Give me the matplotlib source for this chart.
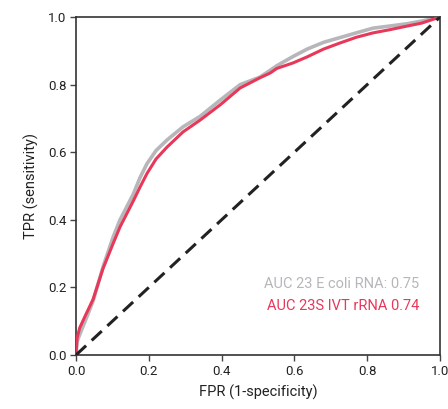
import matplotlib
matplotlib.use("Agg")
import matplotlib.pyplot as plt

plt.rcParams['font.family'] = ['Roboto', 'DejaVu Sans']

# Shared FPR grid
fpr = [0.0, 0.003, 0.01, 0.025, 0.047, 0.074, 0.102, 0.121, 0.157, 0.176, 0.195, 0.22, 0.25,
       0.294, 0.341, 0.396, 0.451, 0.505, 0.533, 0.552, 0.596, 0.635, 0.68, 0.725, 0.77,
       0.816, 0.86, 0.909, 0.95, 1.0]
# E. coli 23S RNA ROC (gray)
ecoli_tpr = [0.0, 0.04, 0.06, 0.10, 0.16, 0.26, 0.349, 0.40, 0.475, 0.525, 0.566, 0.605, 0.636,
             0.675, 0.706, 0.754, 0.80, 0.822, 0.842, 0.856, 0.883, 0.905, 0.925, 0.939, 0.953,
             0.967, 0.973, 0.98, 0.988, 1.0]
# 23S IVT rRNA ROC (red)
ivt_tpr = [0.0, 0.05, 0.08, 0.115, 0.165, 0.255, 0.33, 0.379, 0.455, 0.497, 0.537, 0.58, 0.615,
           0.66, 0.695, 0.74, 0.79, 0.82, 0.834, 0.848, 0.864, 0.882, 0.905, 0.923, 0.94,
           0.953, 0.962, 0.973, 0.982, 1.0]

diag = [0.0, 1.0]
ticks = [0.0, 0.2, 0.4, 0.6, 0.8, 1.0]
tick_labels = ["0.0", "0.2", "0.4", "0.6", "0.8", "1.0"]
legend_texts = ["AUC 23 E coli RNA: 0.75", "AUC 23S IVT rRNA 0.74"]

gray = "#b7b7bb"
red = "#e8385a"

fig = plt.figure(figsize=(4.48, 4.09), dpi=100)
ax = fig.add_axes([76/448, 1-355/409, (440-76)/448, (355-17)/409])

ax.plot(fpr, ivt_tpr, color=red, lw=2.2, zorder=3)
ax.plot(fpr, ecoli_tpr, color=gray, lw=2.6, zorder=2)
ax.plot(diag, diag, color="#222222", lw=2.2, ls=(0, (4.5, 2.5)), zorder=4)

ax.set_xlim(0, 1)
ax.set_ylim(0, 1)
ax.set_xticks(ticks)
ax.set_xticklabels(tick_labels)
ax.set_yticks(ticks)
ax.set_yticklabels(tick_labels)
ax.tick_params(direction="out", length=4, width=1, color="#444444", labelsize=9.5,
               labelcolor="#222222", pad=3)
for s in ax.spines.values():
    s.set_color("#333333")
    s.set_linewidth(1.2)

ax.set_xlabel("FPR (1-specificity)", fontsize=10.5, color="#222222", labelpad=5)
ax.set_ylabel("TPR (sensitivity)", fontsize=10.5, color="#222222", labelpad=6)

ax.text(0.943, 0.209, legend_texts[0], transform=ax.transAxes, ha="right", va="center",
        color=gray, fontsize=10.5)
ax.text(0.943, 0.144, legend_texts[1], transform=ax.transAxes, ha="right", va="center",
        color=red, fontsize=10.5)

fig.savefig("out.png", dpi=100)
